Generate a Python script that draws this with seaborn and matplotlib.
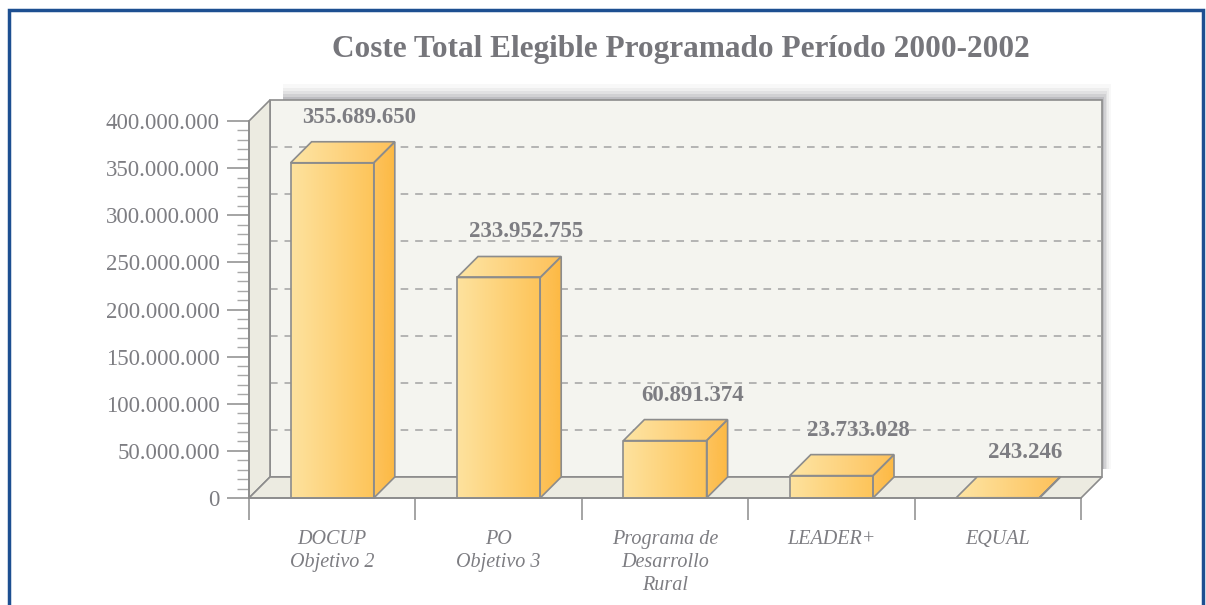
"""Coste Total Elegible Programado, 3D-style bars"""

import numpy as np
import matplotlib.pyplot as plt
from matplotlib.colors import LinearSegmentedColormap
from matplotlib.patches import Polygon, Rectangle
import seaborn as sns

categories = ["DOCUP\nObjetivo 2", "PO\nObjetivo 3",
              "Programa de\nDesarrollo\nRural", "LEADER+", "EQUAL"]
values = [355689650, 233952755, 60891374, 23733028, 243246]
value_labels = ["355.689.650", "233.952.755", "60.891.374",
                "23.733.028", "243.246"]
y_ticks = [0, 50e6, 100e6, 150e6, 200e6, 250e6, 300e6, 350e6, 400e6]
y_tick_labels = ["0", "50.000.000", "100.000.000", "150.000.000",
                 "200.000.000", "250.000.000", "300.000.000",
                 "350.000.000", "400.000.000"]
title = "Coste Total Elegible Programado Período 2000-2002"

GREY = "#7d7d82"
EDGE = "#8c8c8c"
WALL = "#f4f4ef"
SIDEWALL = "#ecebe1"
front_cmap = LinearSegmentedColormap.from_list("front", ["#fee29e", "#fdc459"])
top_cmap = LinearSegmentedColormap.from_list("top", ["#fee5a4", "#fdc15a"])
side_cmap = LinearSegmentedColormap.from_list("side", ["#fdc35c", "#fdb944"])

W, H = 1206, 605
sns.set_theme(style="white")
plt.rcParams["font.family"] = ["Liberation Serif", "DejaVu Serif"]

fig = plt.figure(figsize=(W / 100, H / 100), dpi=100)
ax = fig.add_axes([249 / W, (H - 498) / H, (1081 - 249) / W, (498 - 121) / H])
ax.set_facecolor("none")

ymax = 400e6
dx = 21 / ((1081 - 249) / 5)
dy = 21 / ((498 - 121) / ymax)
x0, x1 = -0.5, len(categories) - 0.5


def poly(pts, **kw):
    p = Polygon(pts, closed=True, clip_on=False, **kw)
    ax.add_patch(p)
    return p


def gradient(patch, cmap, ext, z):
    g = np.linspace(0, 1, 64).reshape(1, -1)
    im = ax.imshow(g, cmap=cmap, extent=ext, aspect="auto",
                   zorder=z, interpolation="bicubic")
    im.set_clip_path(patch)
    return im


# drop shadow behind back wall
for i, a in enumerate([0.04, 0.06, 0.08, 0.11, 0.15]):
    s = (5 - i) * 0.011
    poly([(x0 + dx + 0.08, ymax + dy + s * 3e8), (x1 + dx + s, ymax + dy + s * 3e8),
          (x1 + dx + s, dy + 8e6), (x0 + dx + 0.08, dy + 8e6)],
         facecolor="#50505c", edgecolor="none", alpha=a, zorder=0)

# back wall, side wall, floor
poly([(x0 + dx, dy), (x1 + dx, dy), (x1 + dx, ymax + dy), (x0 + dx, ymax + dy)],
     facecolor=WALL, edgecolor=EDGE, linewidth=1.2, zorder=1)
poly([(x0, 0), (x0 + dx, dy), (x0 + dx, ymax + dy), (x0, ymax)],
     facecolor=SIDEWALL, edgecolor=EDGE, linewidth=1.2, zorder=2)
poly([(x0, 0), (x1, 0), (x1 + dx, dy), (x0 + dx, dy)],
     facecolor=SIDEWALL, edgecolor=EDGE, linewidth=1.2, zorder=2)

for v in y_ticks[1:-1]:
    ax.plot([x0 + dx, x1 + dx], [v + dy, v + dy], color="#a3a3a3",
            linewidth=1.1, dashes=(5, 4.5), zorder=1.5, clip_on=False)

sns.barplot(x=list(range(len(categories))), y=values, width=0.5,
            color="#fdd27a", edgecolor=EDGE, linewidth=1.2, ax=ax,
            zorder=4, native_scale=False)

for bar, lab in zip(ax.patches[-len(values):], value_labels):
    bx, bw, bh = bar.get_x(), bar.get_width(), bar.get_height()
    bar.set_facecolor("none")
    bar.set_clip_on(False)
    front = Rectangle((bx, 0), bw, bh, transform=ax.transData)
    gradient(front, front_cmap, [bx, bx + bw, 0, max(bh, 1)], 3.5)
    side = poly([(bx + bw, 0), (bx + bw + dx, dy), (bx + bw + dx, bh + dy),
                 (bx + bw, bh)], facecolor="none", edgecolor=EDGE,
                linewidth=1.2, zorder=4)
    gradient(side, side_cmap, [bx + bw, bx + bw + dx, 0, bh + dy], 3.5)
    top = poly([(bx, bh), (bx + bw, bh), (bx + bw + dx, bh + dy),
                (bx + dx, bh + dy)], facecolor="none", edgecolor=EDGE,
               linewidth=1.2, zorder=4)
    gradient(top, top_cmap, [bx, bx + bw + dx, bh, bh + dy], 3.5)
    ax.text(bx + bw / 2 + dx * 1.3, bh + dy + 26e6, lab, ha="center",
            va="center", fontsize=16.5, fontweight="bold", color=GREY,
            zorder=6)

ax.set_xlim(x0, x1)
ax.set_ylim(0, ymax)
ax.set_yticks(y_ticks)
ax.set_yticklabels(y_tick_labels)
ax.set_yticks(np.arange(0, ymax + 1, 10e6), minor=True)
ax.set_xticks(range(len(categories)))
ax.set_xticklabels(categories, fontstyle="italic")
ax.set_xticks(np.arange(x0, x1 + 0.01, 1), minor=True)
ax.tick_params(axis="y", which="major", length=16, width=1.1, color=EDGE,
               labelsize=16.5, labelcolor=GREY, pad=5, left=True)
ax.tick_params(axis="y", which="minor", length=9, width=1, color="#a8a8a8",
               left=True)
ax.tick_params(axis="x", which="major", length=0, labelsize=14.5,
               labelcolor=GREY, pad=23)
ax.tick_params(axis="x", which="minor", length=16, width=1.1, color=EDGE,
               bottom=True, direction="out")
for lbl in ax.get_xticklabels():
    lbl.set_va("top")
    lbl.set_linespacing(1.3)
for side_name in ["top", "right"]:
    ax.spines[side_name].set_visible(False)
for side_name in ["left", "bottom"]:
    ax.spines[side_name].set_color(EDGE)
    ax.spines[side_name].set_linewidth(1.2)
    ax.spines[side_name].set_zorder(5)

fig.text(681 / W, 1 - 49 / H, title, ha="center", va="center",
         fontsize=22.5, fontweight="bold", color="#76767b")

fig.patches.append(Rectangle((9 / W, -0.05), (1203 - 9) / W, 1.05 - 10 / H,
                             transform=fig.transFigure, facecolor="none",
                             edgecolor="#1d4f91", linewidth=2.5))

fig.savefig("out.png", dpi=100, facecolor="white")
